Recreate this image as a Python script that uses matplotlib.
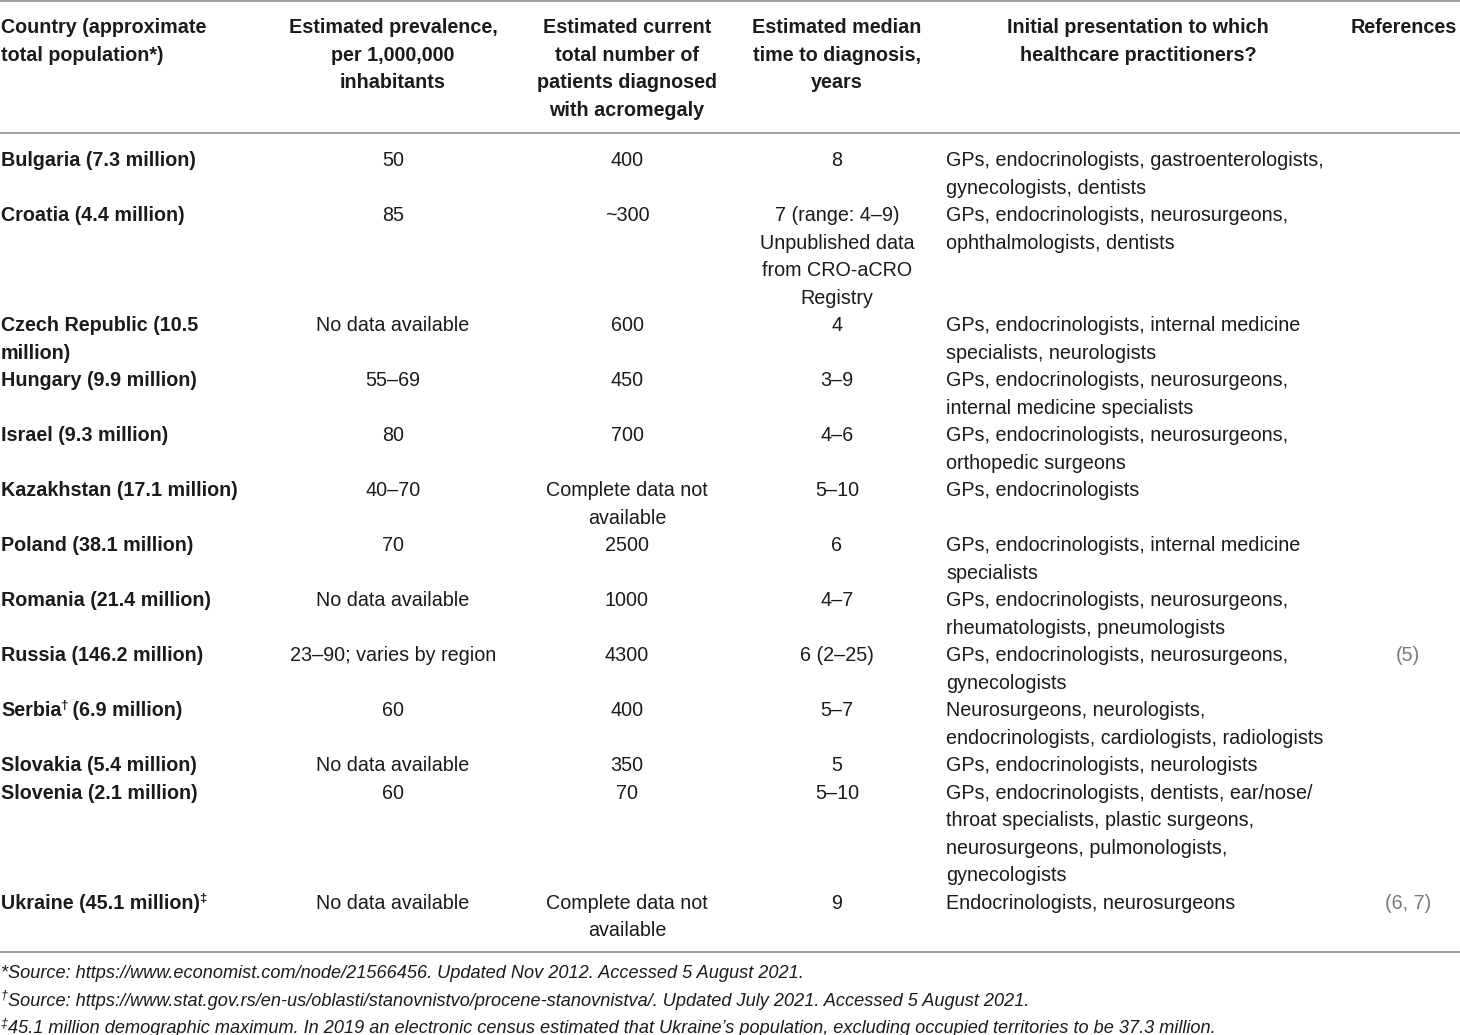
import matplotlib
matplotlib.use("Agg")
import matplotlib.pyplot as plt

# ---------------- data ----------------
headers = [
    "Country (approximate\ntotal population*)",
    "Estimated prevalence,\nper 1,000,000\ninhabitants",
    "Estimated current\ntotal number of\npatients diagnosed\nwith acromegaly",
    "Estimated median\ntime to diagnosis,\nyears",
    "Initial presentation to which\nhealthcare practitioners?",
    "References",
]
countries = ["Bulgaria", "Croatia", "Czech Republic", "Hungary", "Israel",
             "Kazakhstan", "Poland", "Romania", "Russia", "Serbia",
             "Slovakia", "Slovenia", "Ukraine"]
populations = ["(7.3 million)", "(4.4 million)", "(10.5\nmillion)", "(9.9 million)",
               "(9.3 million)", "(17.1 million)", "(38.1 million)", "(21.4 million)",
               "(146.2 million)", "(6.9 million)", "(5.4 million)", "(2.1 million)",
               "(45.1 million)"]
country_marks = ["", "", "", "", "", "", "", "", "", "\u2020", "", "", "\u2021"]
prevalence = ["50", "85", "No data available", "55\u201369", "80", "40\u201370", "70",
              "No data available", "23\u201390; varies by region", "60",
              "No data available", "60", "No data available"]
patients = ["400", "~300", "600", "450", "700", "Complete data not\navailable", "2500",
            "1000", "4300", "400", "350", "70", "Complete data not\navailable"]
time_to_dx = ["8", "7 (range: 4\u20139)\nUnpublished data\nfrom CRO-aCRO\nRegistry", "4",
              "3\u20139", "4\u20136", "5\u201310", "6", "4\u20137", "6 (2\u201325)", "5\u20137",
              "5", "5\u201310", "9"]
presentation = [
    "GPs, endocrinologists, gastroenterologists,\ngynecologists, dentists",
    "GPs, endocrinologists, neurosurgeons,\nophthalmologists, dentists",
    "GPs, endocrinologists, internal medicine\nspecialists, neurologists",
    "GPs, endocrinologists, neurosurgeons,\ninternal medicine specialists",
    "GPs, endocrinologists, neurosurgeons,\northopedic surgeons",
    "GPs, endocrinologists",
    "GPs, endocrinologists, internal medicine\nspecialists",
    "GPs, endocrinologists, neurosurgeons,\nrheumatologists, pneumologists",
    "GPs, endocrinologists, neurosurgeons,\ngynecologists",
    "Neurosurgeons, neurologists,\nendocrinologists, cardiologists, radiologists",
    "GPs, endocrinologists, neurologists",
    "GPs, endocrinologists, dentists, ear/nose/\nthroat specialists, plastic surgeons,\nneurosurgeons, pulmonologists,\ngynecologists",
    "Endocrinologists, neurosurgeons",
]
references = ["", "", "", "", "", "", "", "", "(5)", "", "", "", "(6, 7)"]
footnote_marks = ["*", "\u2020", "\u2021"]
footnotes = [
    "Source: https://www.economist.com/node/21566456. Updated Nov 2012. Accessed 5 August 2021.",
    "Source: https://www.stat.gov.rs/en-us/oblasti/stanovnistvo/procene-stanovnistva/. Updated July 2021. Accessed 5 August 2021.",
    "45.1 million demographic maximum. In 2019 an electronic census estimated that Ukraine\u2019s population, excluding occupied territories to be 37.3 million.",
]

# ---------------- layout ----------------
W, H = 1460, 1035
fig = plt.figure(figsize=(W / 100, H / 100), dpi=100)
ax = fig.add_axes([0, 0, 1, 1])
ax.set_xlim(0, W)
ax.set_ylim(H, 0)
ax.axis("off")
renderer = fig.canvas.get_renderer()

FONT = "Liberation Sans"
FS = 14.2
FS_SUP = 9.5
LH = 27.5
BASE = 7.2
TXT = "#1b1b1b"
GREY_REF = "#7a7a7a"
LINE = "#9a9a9a"

col_x = [1, 393, 627, 837, 946, 1408]
head_x = [1, 393, 627, 837, 1138, 1404]
head_ha = ["left", "center", "center", "center", "center", "center"]


def put(x, yc, s, ha="left", weight="normal", color=TXT, style="normal", fs=FS):
    return ax.text(x, yc + BASE, s, ha=ha, va="baseline", fontsize=fs, family=FONT,
                   fontweight=weight, color=color, fontstyle=style)


def put_lines(x, yc, s, **kw):
    for i, line in enumerate(s.split("\n")):
        put(x, yc + i * LH, line, **kw)


def width_of(t):
    return t.get_window_extent(renderer).width


# horizontal rules
for y in (1.2, 133, 952):
    ax.plot([0, W], [y, y], color=LINE, lw=1.3, solid_capstyle="butt")

# header
for hx, ha, h in zip(head_x, head_ha, headers):
    put_lines(hx, 26, h, ha=ha, weight="bold")

# rows
y = 159
for i in range(len(countries)):
    n_lines = max(
        len(populations[i].split("\n")), len(prevalence[i].split("\n")),
        len(patients[i].split("\n")), len(time_to_dx[i].split("\n")),
        len(presentation[i].split("\n")),
    )
    pop_lines = populations[i].split("\n")
    if country_marks[i] == "\u2020":
        t = put(1, y, countries[i], weight="bold")
        w = width_of(t)
        s = ax.text(1 + w - 1.0, y + BASE - 7, country_marks[i], ha="left", va="baseline",
                    fontsize=FS_SUP, family=FONT, fontweight="bold", color=TXT)
        w2 = width_of(s)
        put(1 + w - 1.0 + w2 - 1.0, y, " " + pop_lines[0], weight="bold")
    elif country_marks[i] == "\u2021":
        t = put(1, y, countries[i] + " " + pop_lines[0], weight="bold")
        w = width_of(t)
        ax.text(1 + w - 1.0, y + BASE - 7, country_marks[i], ha="left", va="baseline",
                fontsize=FS_SUP, family=FONT, fontweight="bold", color=TXT)
    else:
        put(1, y, countries[i] + " " + pop_lines[0], weight="bold")
        for k, pl in enumerate(pop_lines[1:], start=1):
            put(1, y + k * LH, pl, weight="bold")
    put_lines(col_x[1], y, prevalence[i], ha="center")
    put_lines(col_x[2], y, patients[i], ha="center")
    put_lines(col_x[3], y, time_to_dx[i], ha="center")
    put_lines(col_x[4], y, presentation[i], ha="left")
    if references[i]:
        put(col_x[5], y, references[i], ha="center", color=GREY_REF)
    y += n_lines * LH

# footnotes
FS_FN = 13.1
for j, (m, fn) in enumerate(zip(footnote_marks, footnotes)):
    yc = 971 + j * LH
    if m == "*":
        put(1, yc, m + fn, style="italic", fs=FS_FN)
    else:
        s = ax.text(1, yc + BASE - 7, m, ha="left", va="baseline", fontsize=9,
                    family=FONT, fontstyle="italic", color=TXT)
        w = width_of(s)
        put(1 + w - 0.5, yc, fn, style="italic", fs=FS_FN)

fig.savefig("out.png", dpi=100)
